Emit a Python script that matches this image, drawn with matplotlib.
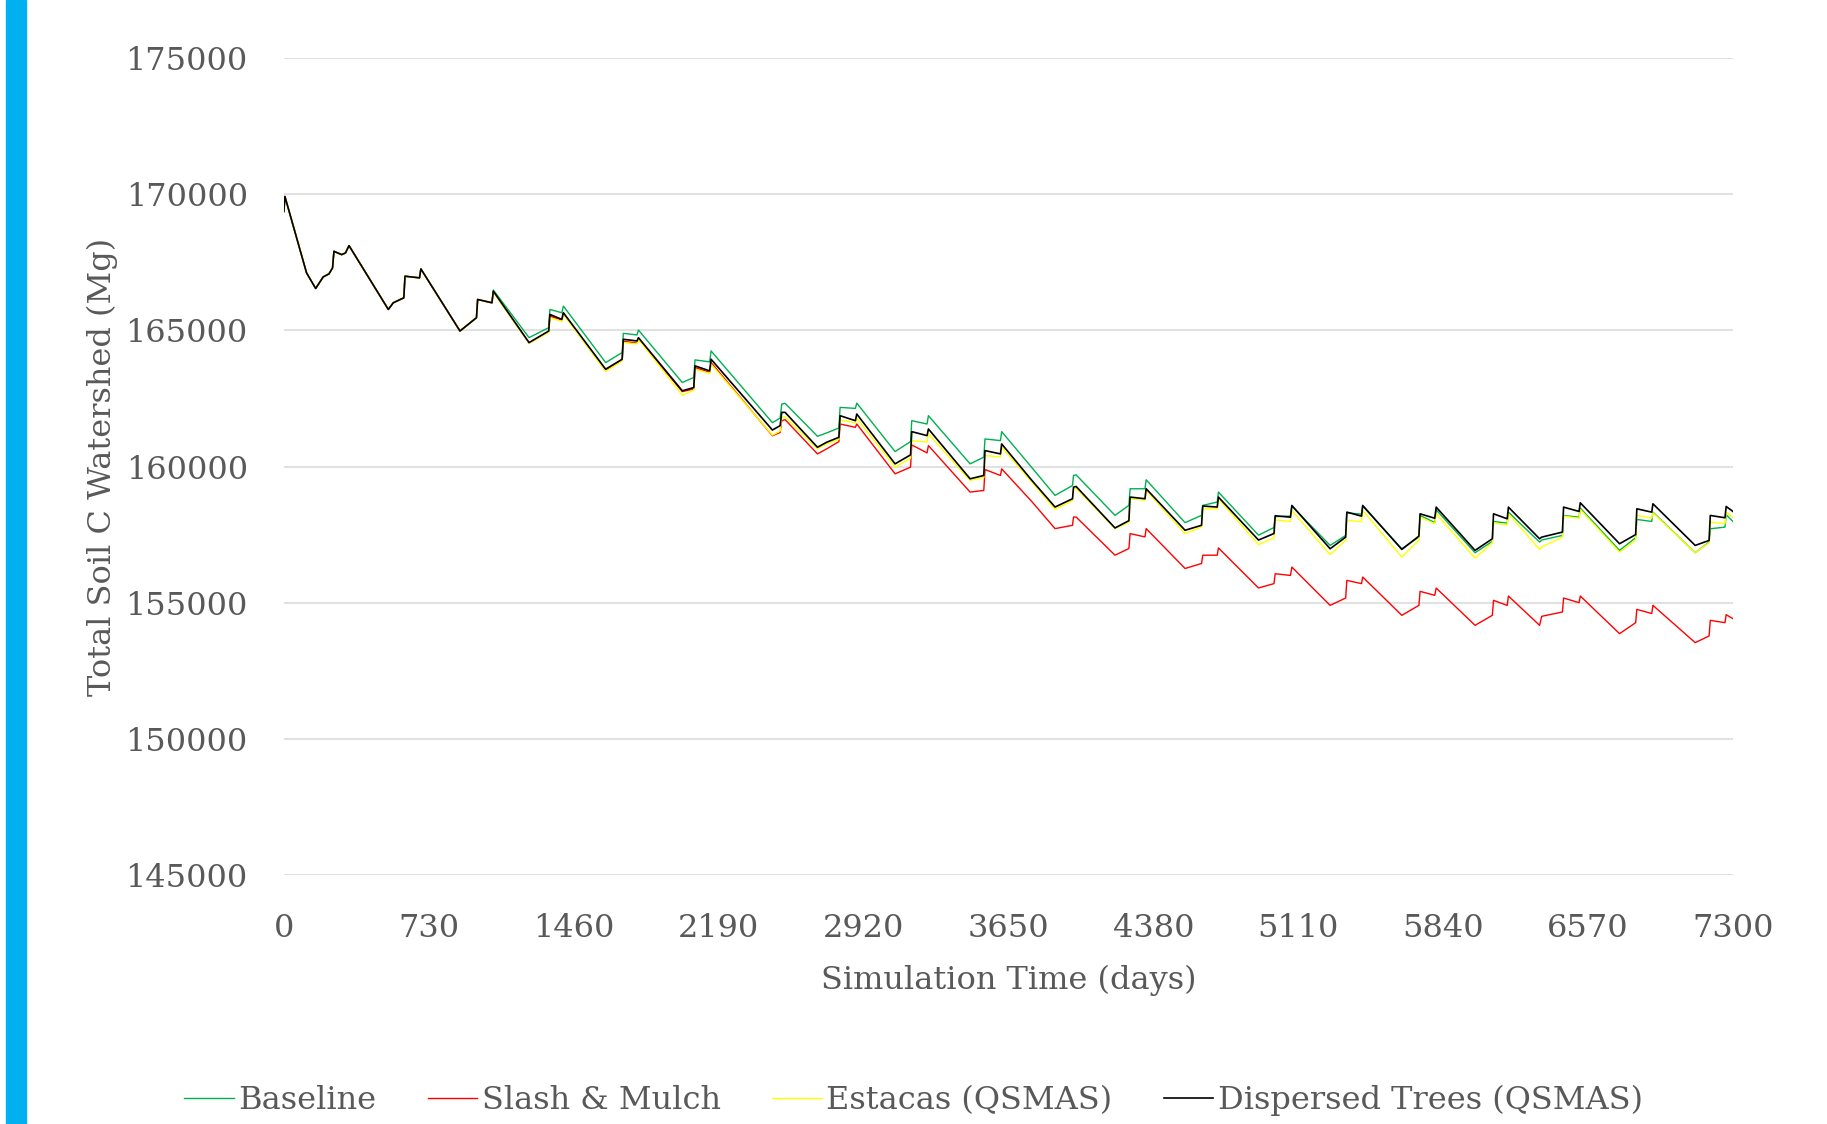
import matplotlib
matplotlib.use("Agg")
import matplotlib.pyplot as plt
from matplotlib.patches import Rectangle

# vertices (simulation day)
days = [0, 5, 60, 114, 160, 198, 227, 245, 252, 291, 310, 328,
        526, 551, 604, 610, 683, 690,
        887, 970, 976, 1048, 1055,
        1235, 1334, 1340, 1400, 1408,
        1621, 1704, 1710, 1779, 1786,
        2007, 2065, 2071, 2145, 2152,
        2461, 2500, 2508, 2525,
        2688, 2734, 2796, 2802, 2879, 2886,
        3079, 3157, 3163, 3240, 3247,
        3457, 3526, 3532, 3610, 3616,
        3767, 3885, 3973, 3978, 3991,
        4187, 4257, 4263, 4338, 4344,
        4540, 4623, 4629, 4702, 4708,
        4910, 4988, 4994, 5071, 5078,
        5271, 5349, 5355, 5429, 5435,
        5632, 5718, 5724, 5798, 5805,
        6001, 6088, 6094, 6163, 6169,
        6326, 6337, 6441, 6447, 6525, 6531,
        6729, 6810, 6816, 6891, 6897,
        7110, 7180, 7186, 7260, 7266, 7300]

# first two years: all scenarios overlap
shared_start = [169366, 169915, 168500, 167110, 166537, 166963, 167073, 167293, 167902, 167780, 167841, 168110,
                165768, 166012, 166195, 166988, 166927, 167256]

baseline = shared_start + [
    164976, 165463, 166134, 166012, 166480,
    164732, 165098, 165768, 165646, 165890,
    163817, 164183, 164890, 164830, 165012,
    163085, 163270, 163915, 163842, 164244,
    161610, 161780, 162293, 162320,
    161110, 161232, 161415, 162171, 162134, 162329,
    160549, 160915, 161683, 161561, 161866,
    160098, 160342, 161012, 160951, 161281,
    159970, 158939, 159305, 159671, 159695,
    158207, 158573, 159183, 159183, 159512,
    157939, 158207, 158573, 158695, 159061,
    157480, 157760, 158160, 158180, 158545,
    157103, 157469, 158300, 158250, 158545,
    156980, 157408, 158203, 157940, 158411,
    156834, 157250, 157983, 157920, 158325,
    157225, 157300, 157470, 158203, 158140, 158472,
    156920, 157384, 158056, 157983, 158325,
    156834, 157225, 157714, 157775, 158227, 157983]

slash_mulch = shared_start + [
    164976, 165463, 166134, 166012, 166420,
    164540, 164950, 165520, 165380, 165620,
    163520, 163900, 164600, 164530, 164700,
    162750, 162850, 163634, 163460, 163817,
    161130, 161250, 161683, 161720,
    160463, 160646, 160915, 161561, 161439, 161561,
    159732, 159976, 160793, 160500, 160768,
    159061, 159122, 159890, 159671, 159915,
    158720, 157720, 157841, 158146, 158146,
    156744, 156988, 157537, 157415, 157720,
    156256, 156439, 156744, 156744, 157012,
    155540, 155700, 156064, 156000, 156308,
    154902, 155171, 155819, 155700, 155941,
    154536, 154902, 155416, 155270, 155538,
    154169, 154536, 155086, 154900, 155245,
    154169, 154500, 154658, 155171, 155000, 155245,
    153863, 154266, 154755, 154600, 154902,
    153533, 153778, 154352, 154266, 154560, 154413]

estacas = shared_start + [
    164976, 165463, 166134, 166012, 166400,
    164520, 164930, 165463, 165330, 165585,
    163500, 163880, 164550, 164500, 164670,
    162620, 162800, 163573, 163420, 163756,
    161150, 161300, 161805, 161830,
    160650, 160830, 161000, 161720, 161600, 161770,
    159976, 160300, 160950, 160900, 161195,
    159488, 159600, 160402, 160350, 160707,
    159440, 158427, 158750, 159183, 159200,
    157720, 157950, 158817, 158760, 159122,
    157537, 157780, 158451, 158450, 158817,
    157130, 157380, 158040, 157980, 158386,
    156760, 157300, 158020, 157980, 158386,
    156675, 157300, 158142, 157900, 158264,
    156638, 157200, 157934, 157860, 158264,
    156956, 157050, 157400, 158178, 158100, 158423,
    156858, 157300, 158203, 158100, 158300,
    156834, 157200, 157958, 157900, 158325, 158142]

dispersed = shared_start + [
    164976, 165463, 166134, 166012, 166439,
    164549, 164976, 165585, 165402, 165646,
    163573, 163939, 164671, 164610, 164732,
    162780, 162900, 163695, 163512, 163939,
    161340, 161500, 161988, 161988,
    160707, 160890, 161073, 161866, 161683, 161927,
    160098, 160427, 161281, 161134, 161378,
    159549, 159671, 160585, 160463, 160829,
    159500, 158512, 158817, 159244, 159268,
    157744, 158012, 158878, 158817, 159183,
    157659, 157842, 158549, 158512, 158878,
    157300, 157540, 158190, 158140, 158570,
    156980, 157408, 158325, 158178, 158570,
    156956, 157445, 158264, 158100, 158509,
    156920, 157347, 158264, 158080, 158509,
    157347, 157408, 157592, 158509, 158350, 158668,
    157164, 157500, 158447, 158325, 158631,
    157103, 157286, 158203, 158118, 158533, 158350]

x_ticks = list(range(0, 7301, 730))
y_ticks = list(range(145000, 175001, 5000))

text_col = '#595959'
plt.rcParams['font.family'] = ['DejaVu Serif']

fig = plt.figure(figsize=(18.27, 11.24), dpi=100)
ax = fig.add_axes([0.1554, 0.2215, 0.7931, 0.7269])

ax.plot(days, baseline, color='#00B050', lw=1.0, label='Baseline')
ax.plot(days, slash_mulch, color='#FF0000', lw=1.0, label='Slash & Mulch')
ax.plot(days, estacas, color='#FFFF00', lw=1.0, label='Estacas (QSMAS)')
ax.plot(days, dispersed, color='#000000', lw=1.2, label='Dispersed Trees (QSMAS)')

ax.set_xlim(0, 7300)
ax.set_ylim(145000, 175000)
ax.set_xticks(x_ticks)
ax.set_yticks(y_ticks)
ax.grid(axis='y', color='#D9D9D9', lw=1.1)
ax.set_axisbelow(True)
for s in ax.spines.values():
    s.set_visible(False)
ax.tick_params(length=0, labelsize=23, labelcolor=text_col)
ax.tick_params(axis='y', pad=26)
ax.tick_params(axis='x', pad=27)

ax.set_xlabel('Simulation Time (days)', fontsize=23, color=text_col, labelpad=15)
ax.set_ylabel('Total Soil C Watershed (Mg)', fontsize=23, color=text_col, labelpad=5)

fig.legend(loc='center', bbox_to_anchor=(0.5, 0.021), ncol=4, frameon=False,
           fontsize=23, handlelength=1.55, handletextpad=0.15, columnspacing=1.6,
           labelcolor=text_col)

# blue accent strip at the left edge
fig.patches.append(Rectangle((6 / 1827, 0), 20 / 1827, 1, transform=fig.transFigure,
                             color='#00B0F0', zorder=0))

fig.savefig('out.png', dpi=100)
